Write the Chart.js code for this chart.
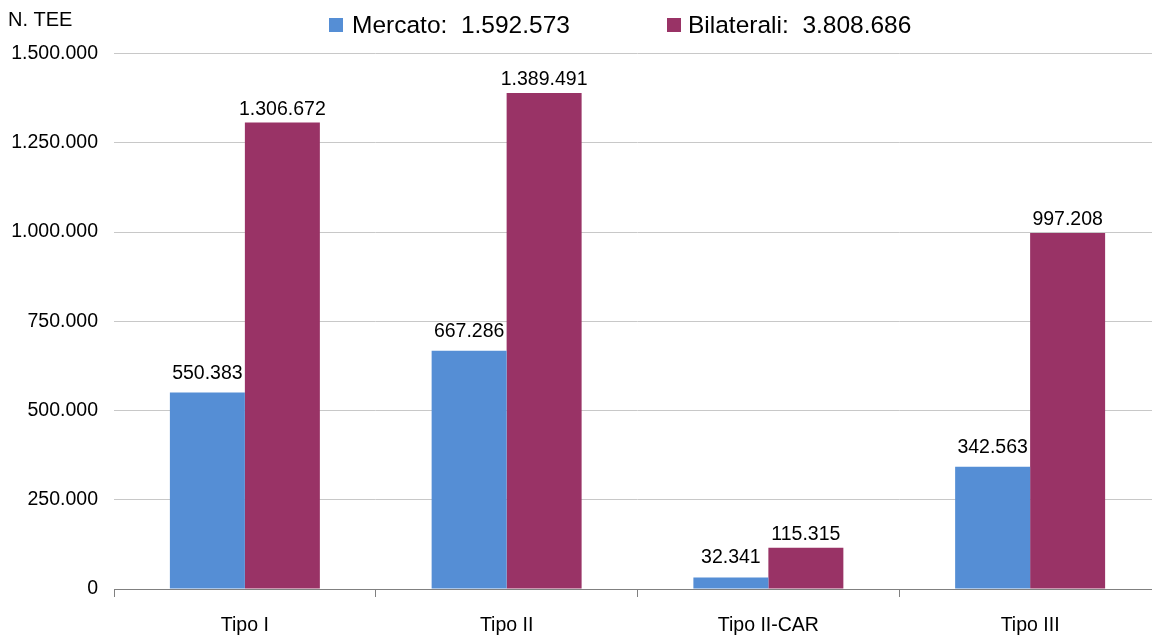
<!DOCTYPE html>
<html>
<head>
<meta charset="utf-8">
<title>TEE</title>
<script src="https://cdn.jsdelivr.net/npm/chart.js@4/dist/chart.umd.min.js"></script>
<style>
    html, body { margin: 0; padding: 0; background: #fff; overflow: hidden; }
    #wrap { width: 1200px; height: 638px; }
</style>
</head>
<body>
<div id="wrap"><canvas id="teeChart" width="1200" height="638"></canvas></div>
<script>
// Chart data
const categories = ['Tipo I', 'Tipo II', 'Tipo II-CAR', 'Tipo III'];
const seriesNames = ['Mercato', 'Bilaterali'];
const mercato = [550383, 667286, 32341, 342563];
const bilaterali = [1306672, 1389491, 115315, 997208];
const yMax = 1500000;
const yStep = 250000;
const yTitle = 'N. TEE';

const colors = ['#558ed5', '#993366'];
const FONT = '"Liberation Sans", Arial, sans-serif';
const FONT_SIZE = 19.5;

// 1500000 -> "1.500.000"
function fmt(n) {
    return String(n).replace(/\B(?=(\d{3})+(?!\d))/g, '.');
}

function total(arr) {
    return arr.reduce((a, b) => a + b, 0);
}

// Values above the bars
const barLabels = {
    id: 'barLabels',
    afterDatasetsDraw(chart) {
        const ctx = chart.ctx;
        const gaps = [14, 8];
        ctx.save();
        ctx.font = FONT_SIZE + 'px ' + FONT;
        ctx.fillStyle = '#000';
        ctx.textAlign = 'center';
        ctx.textBaseline = 'alphabetic';
        chart.data.datasets.forEach((ds, i) => {
            const meta = chart.getDatasetMeta(i);
            meta.data.forEach((bar, j) => {
                ctx.fillText(fmt(ds.data[j]), bar.x, bar.y - gaps[i]);
            });
        });
        ctx.restore();
    }
};

// Legend with totals + axis title
const topLegend = {
    id: 'topLegend',
    afterDraw(chart) {
        const ctx = chart.ctx;
        ctx.save();
        ctx.fillStyle = '#000';
        ctx.textBaseline = 'middle';
        ctx.textAlign = 'left';
        ctx.font = '20px ' + FONT;
        ctx.fillText(yTitle, 8, 20);

        ctx.font = '24.5px ' + FONT;
        const boxes = [329, 667];
        const texts = [352, 688];
        chart.data.datasets.forEach((ds, i) => {
            ctx.fillStyle = ds.backgroundColor;
            ctx.fillRect(boxes[i], 18, 14, 14);
            ctx.fillStyle = '#000';
            ctx.fillText(ds.label + ':  ' + fmt(total(ds.data)), texts[i], 26);
        });
        ctx.restore();
    }
};

new Chart(document.getElementById('teeChart'), {
    type: 'bar',
    data: {
        labels: categories,
        datasets: [
            {
                label: seriesNames[0],
                data: mercato,
                backgroundColor: colors[0],
                barPercentage: 1,
                categoryPercentage: 0.573
            },
            {
                label: seriesNames[1],
                data: bilaterali,
                backgroundColor: colors[1],
                barPercentage: 1,
                categoryPercentage: 0.573
            }
        ]
    },
    options: {
        responsive: false,
        animation: false,
        layout: {
            padding: { top: 53.5, right: 39, left: 0, bottom: 0 }
        },
        scales: {
            x: {
                afterFit: (scale) => { scale.height = 49; },
                grid: {
                    offset: true,
                    drawOnChartArea: false,
                    drawTicks: true,
                    tickLength: 8,
                    color: '#808080'
                },
                border: { color: '#808080', width: 1 },
                ticks: {
                    color: '#000',
                    padding: 17,
                    font: { family: FONT, size: FONT_SIZE }
                }
            },
            y: {
                min: 0,
                max: yMax,
                afterFit: (scale) => { scale.width = 114; },
                grid: {
                    drawTicks: false,
                    color: (c) => c.tick && c.tick.value === 0 ? '#808080' : '#c8c8c8'
                },
                border: { display: false },
                ticks: {
                    stepSize: yStep,
                    color: '#000',
                    padding: 16,
                    font: { family: FONT, size: FONT_SIZE },
                    callback: (v) => fmt(v)
                }
            }
        },
        plugins: {
            legend: { display: false },
            tooltip: { enabled: false }
        }
    },
    plugins: [barLabels, topLegend]
});
</script>
</body>
</html>
